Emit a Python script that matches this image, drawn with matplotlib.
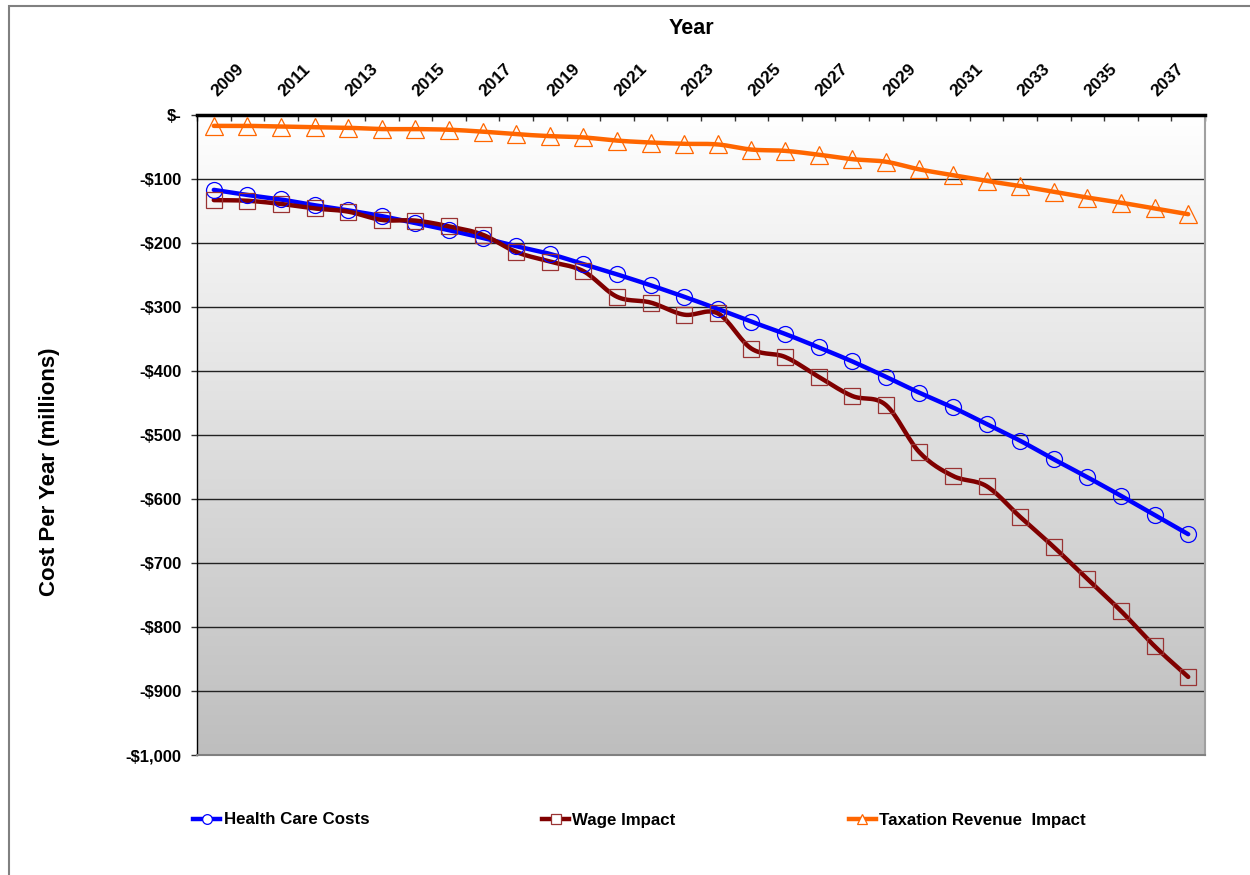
import numpy as np
import matplotlib
matplotlib.use("Agg")
import matplotlib.pyplot as plt
from matplotlib.colors import LinearSegmentedColormap
from matplotlib.patches import Rectangle

plt.rcParams['font.family'] = ['Liberation Sans', 'DejaVu Sans']
plt.rcParams['font.weight'] = 'bold'

# Datos (millones de dolares por anio)
years = list(range(2009, 2039))
health_care = [-117, -125, -132, -141, -149, -158, -169, -180, -192, -205,
               -217, -233, -249, -266, -284, -303, -323, -342, -363, -385,
               -409, -434, -457, -483, -509, -538, -566, -595, -625, -655]
wage = [-133, -134, -139, -146, -151, -164, -165, -174, -187, -214,
        -229, -244, -284, -293, -312, -310, -365, -378, -409, -439,
        -453, -527, -564, -580, -628, -675, -725, -775, -830, -878]
taxation = [-17, -17, -18, -19, -20, -22, -22, -23, -26, -30,
            -33, -35, -40, -43, -45, -46, -54, -56, -62, -69,
            -73, -85, -94, -103, -111, -120, -129, -137, -146, -155]
y_ticks = list(range(0, -1001, -100))
y_labels = ['$-'] + ['-${:,}'.format(-v) for v in y_ticks[1:]]


def suavizar(x, y, n=16):
    # curva Catmull-Rom que pasa por todos los puntos
    x = np.asarray(x, float)
    y = np.asarray(y, float)
    px = np.concatenate([[2 * x[0] - x[1]], x, [2 * x[-1] - x[-2]]])
    py = np.concatenate([[2 * y[0] - y[1]], y, [2 * y[-1] - y[-2]]])
    xs, ys = [], []
    t = np.linspace(0, 1, n, endpoint=False)
    for i in range(1, len(px) - 2):
        for arr, out in ((px, xs), (py, ys)):
            p0, p1, p2, p3 = arr[i - 1], arr[i], arr[i + 1], arr[i + 2]
            out.extend(0.5 * ((2 * p1) + (-p0 + p2) * t
                              + (2 * p0 - 5 * p1 + 4 * p2 - p3) * t ** 2
                              + (-p0 + 3 * p1 - 3 * p2 + p3) * t ** 3))
    xs.append(x[-1])
    ys.append(y[-1])
    return np.array(xs), np.array(ys)


fig = plt.figure(figsize=(12.5, 8.75), dpi=100)
ax = fig.add_axes([197 / 1250, 120 / 875, 1008 / 1250, 640 / 875])

idx = np.arange(len(years))
ax.set_xlim(-0.5, len(years) - 0.5)
ax.set_ylim(-1000, 0)

# fondo degradado del area de trazado
cmap = LinearSegmentedColormap.from_list('fondo', ['#ffffff', '#bebebe'])
grad = np.linspace(0, 1, 256).reshape(-1, 1)
ax.imshow(grad, cmap=cmap, aspect='auto', extent=(-0.5, len(years) - 0.5, -1000, 0),
          zorder=0, origin='upper')

for v in y_ticks[1:-1]:
    ax.axhline(v, color='#222222', lw=1, zorder=1)

series = [
    (health_care, 'Health Care Costs', '#0000ff', '#0000ff', 'o', 11.5),
    (wage, 'Wage Impact', '#800000', '#993333', 's', 11.5),
    (taxation, 'Taxation Revenue  Impact', '#ff6600', '#ff6600', '^', 12.5),
]
handles = []
for vals, name, lc, mc, mk, ms in series:
    sx, sy = suavizar(idx, vals)
    ax.plot(sx, sy, color=lc, lw=3.2, zorder=3, solid_capstyle='round')
    ax.plot(idx, vals, ls='none', marker=mk, ms=ms, mfc='none', mec=mc,
            mew=0.9, zorder=4)
    h, = plt.plot([], [], color=lc, lw=3.2, marker=mk, ms=7, mfc='white',
                  mec=mc, mew=0.9, label=name)
    handles.append(h)

# eje x arriba
ax.xaxis.tick_top()
ax.set_xticks(idx[::2])
ax.set_xticklabels([str(a) for a in years[::2]], rotation=45,
                   rotation_mode='anchor', ha='left', va='center', fontsize=12.5)
ax.set_xticks(np.arange(-0.5, len(years)), minor=True)
ax.tick_params(axis='x', which='major', length=0, pad=15)
ax.tick_params(axis='x', which='minor', direction='in', length=4, width=1,
               top=True, bottom=False, color='#333333')

ax.set_yticks(y_ticks)
ax.set_yticklabels(y_labels, fontsize=12)
ax.tick_params(axis='y', length=4, width=1, pad=7, color='#333333')

ax.spines['top'].set_linewidth(2.5)
ax.spines['top'].set_color('black')
ax.spines['left'].set_color('black')
ax.spines['left'].set_linewidth(1)
ax.spines['right'].set_color('#a0a0a0')
ax.spines['right'].set_linewidth(1.5)
ax.spines['bottom'].set_color('#808080')
ax.spines['bottom'].set_linewidth(1.5)

fig.text(691 / 1250, 1 - 28 / 875, 'Year', ha='center', va='center',
         fontsize=15.5, fontweight='bold')
fig.text(50 / 1250, 1 - 472 / 875, 'Cost Per Year (millions)', ha='center',
         va='center', rotation=90, fontsize=16, fontweight='bold')

fig.legend(handles=handles, loc='center left', bbox_to_anchor=(193 / 1250, 1 - 820 / 875),
           ncol=3, frameon=False, fontsize=12.2, handlelength=1.6,
           handletextpad=0.2, columnspacing=10.2, borderaxespad=0, borderpad=0)

# marco exterior del grafico
fig.patches.append(Rectangle((9 / 1250, -0.1), 1.2, 1 - 6 / 875 + 0.1,
                             transform=fig.transFigure, fill=False,
                             edgecolor='#808080', lw=1.5))

fig.savefig('out.png', dpi=100)
